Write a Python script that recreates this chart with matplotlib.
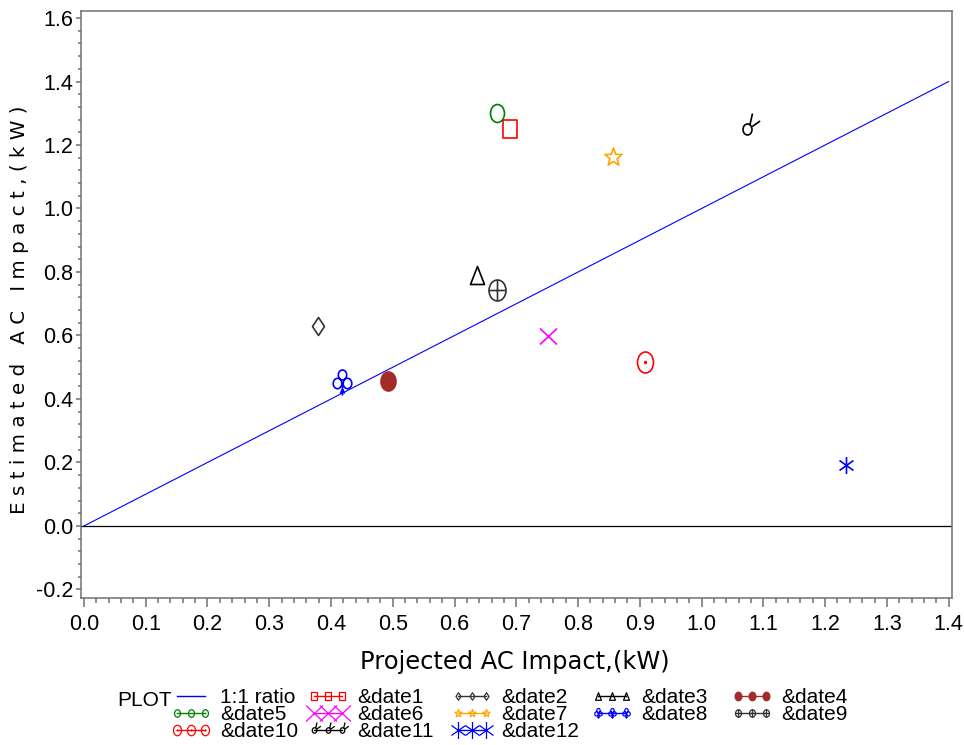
import matplotlib
matplotlib.use("Agg")
import math
import matplotlib.pyplot as plt
from matplotlib.path import Path
from matplotlib.lines import Line2D
from matplotlib.ticker import MultipleLocator, FormatStrFormatter

plt.rcParams['font.family'] = ['Liberation Sans', 'DejaVu Sans']

# data
dates = ["&date1", "&date2", "&date3", "&date4", "&date5", "&date6",
         "&date7", "&date8", "&date9", "&date10", "&date11", "&date12"]
projected = [0.690, 0.379, 0.636, 0.493, 0.669, 0.752,
             0.857, 0.417, 0.669, 0.909, 1.073, 1.234]
estimated = [1.249, 0.631, 0.792, 0.457, 1.302, 0.599,
             1.161, 0.455, 0.743, 0.517, 1.249, 0.192]
ratio_x = [0.0, 1.4]
ratio_y = [0.0, 1.4]

colors = ["red", "#333333", "black", "#A52A2A", "green", "magenta",
          "orange", "blue", "#333333", "red", "black", "blue"]


# marker shapes, built in pixel units around the point
def ellipse(cx, cy, rx, ry):
    c = Path.unit_circle()
    return Path(c.vertices * [rx, ry] + [cx, cy], c.codes)


def poly(pts):
    return Path(pts + [pts[0]],
                [Path.MOVETO] + [Path.LINETO] * (len(pts) - 1) + [Path.CLOSEPOLY])


def segs(*pairs):
    verts, codes = [], []
    for a, b in pairs:
        verts += [a, b]
        codes += [Path.MOVETO, Path.LINETO]
    return Path(verts, codes)


def star(R, r, sx=0.95):
    pts = []
    for k in range(10):
        ang = math.pi / 2 + k * math.pi / 5
        rad = R if k % 2 == 0 else r
        pts.append((sx * rad * math.cos(ang), rad * math.sin(ang)))
    return poly(pts)


comp = Path.make_compound_path
shapes = [
    poly([(-7, -9), (7, -9), (7, 9), (-7, 9)]),
    poly([(0, -9), (6, 0), (0, 9), (-6, 0)]),
    poly([(-7, -9), (7, -9), (0, 9)]),
    ellipse(0, 0, 7.5, 9.5),
    ellipse(0, 0, 7, 9),
    segs(((-8.5, -8), (8.5, 8)), ((-8.5, 8), (8.5, -8))),
    star(9.5, 4.0),
    comp(ellipse(0, 7.5, 4.2, 5), ellipse(-5, -1, 4.3, 5.2),
         ellipse(5, -1, 4.3, 5.2),
         segs(((0, -3), (0, -13)), ((0, -7), (-2.2, -11)), ((0, -7), (2.2, -11)))),
    comp(ellipse(0, 0, 8.5, 10.5),
         segs(((0, -10.5), (0, 10.5)), ((-8.5, 0), (8.5, 0)))),
    comp(ellipse(0, 0, 8, 10.5), ellipse(0, 0, 0.8, 1.0)),
    comp(ellipse(0, 0, 4.5, 5.5),
         segs(((2.5, 5.0), (5.0, 16)), ((4.8, 3.0), (12.6, 8.5)))),
    segs(((0, -8.5), (0, 8.5)), ((-7, -5), (7, 5)), ((-7, 5), (7, -5))),
]
filled = [False, False, False, True, False, False,
          False, False, False, False, False, False]
legend_scale = [0.4, 0.42, 0.42, 0.45, 0.42, 1.0,
                0.42, 0.4, 0.35, 0.5, 0.5, 1.0]


def size_pt(path):
    return 2 * abs(path.vertices).max() * 72 / 100


fig = plt.figure(figsize=(9.64, 7.45), dpi=100)
ax = fig.add_axes([0.0837, 0.1973, 0.9036, 0.7883])

ax.axhline(0, color="black", lw=0.9, zorder=1)
ax.plot(ratio_x, ratio_y, color="blue", lw=0.8, zorder=2)

handles = []
for i, name in enumerate(dates):
    ms = size_pt(shapes[i])
    face = colors[i] if filled[i] else "none"
    ax.plot(projected[i], estimated[i], linestyle="none", marker=shapes[i],
            markersize=ms, markeredgecolor=colors[i], markerfacecolor=face,
            markeredgewidth=1.2, zorder=3)
    handles.append(Line2D([], [], color=colors[i], lw=1.0, marker=shapes[i],
                          markersize=ms * legend_scale[i],
                          markeredgecolor=colors[i], markerfacecolor=face,
                          markeredgewidth=0.9))
ratio_handle = Line2D([], [], color="blue", lw=1.0)

ax.set_xlim(-0.0053, 1.405)
ax.set_ylim(-0.227, 1.623)
ax.xaxis.set_major_locator(MultipleLocator(0.1))
ax.xaxis.set_minor_locator(MultipleLocator(0.02))
ax.yaxis.set_major_locator(MultipleLocator(0.2))
ax.yaxis.set_minor_locator(MultipleLocator(0.04))
ax.xaxis.set_major_formatter(FormatStrFormatter("%.1f"))
ax.yaxis.set_major_formatter(FormatStrFormatter("%.1f"))

for sp in ax.spines.values():
    sp.set_color("#707070")
    sp.set_linewidth(1.1)
ax.tick_params(axis="both", which="both", direction="out", color="#707070",
               width=1.1, labelsize=15.5)
ax.tick_params(axis="x", which="major", length=6.5, pad=5)
ax.tick_params(axis="x", which="minor", length=3.6)
ax.tick_params(axis="y", which="major", length=3.6, pad=2)
ax.tick_params(axis="y", which="minor", length=2.2)

fig.text(515 / 964, 1 - 662 / 745, "Projected AC Impact,(kW)",
         family="DejaVu Sans", fontsize=17.4, ha="center", va="center")
fig.text(20 / 964, 1 - 310 / 745,
         "E s t i m a t e d   A C   I m p a c t , ( k W )",
         family="DejaVu Sans", fontsize=14.3, rotation=90,
         ha="center", va="center")

# legend laid out as five columns
fig.text(117.7 / 964, 1 - 705.7 / 745, "PLOT", fontsize=15,
         ha="left", va="baseline")
columns = [
    [(ratio_handle, "1:1 ratio"), (handles[4], dates[4]), (handles[9], dates[9])],
    [(handles[0], dates[0]), (handles[5], dates[5]), (handles[10], dates[10])],
    [(handles[1], dates[1]), (handles[6], dates[6]), (handles[11], dates[11])],
    [(handles[2], dates[2]), (handles[7], dates[7])],
    [(handles[3], dates[3]), (handles[8], dates[8])],
]
col_x = [171, 308, 452, 592, 732]
for cx, entries in zip(col_x, columns):
    fig.legend([h for h, _ in entries], [l for _, l in entries],
               loc="upper left", bbox_to_anchor=(cx / 964, 1 - 688 / 745),
               bbox_transform=fig.transFigure, frameon=False, borderpad=0,
               borderaxespad=0, handlelength=1.95, handletextpad=0.4,
               labelspacing=-0.09, numpoints=3, fontsize=15)

fig.savefig("out.png", dpi=100)
